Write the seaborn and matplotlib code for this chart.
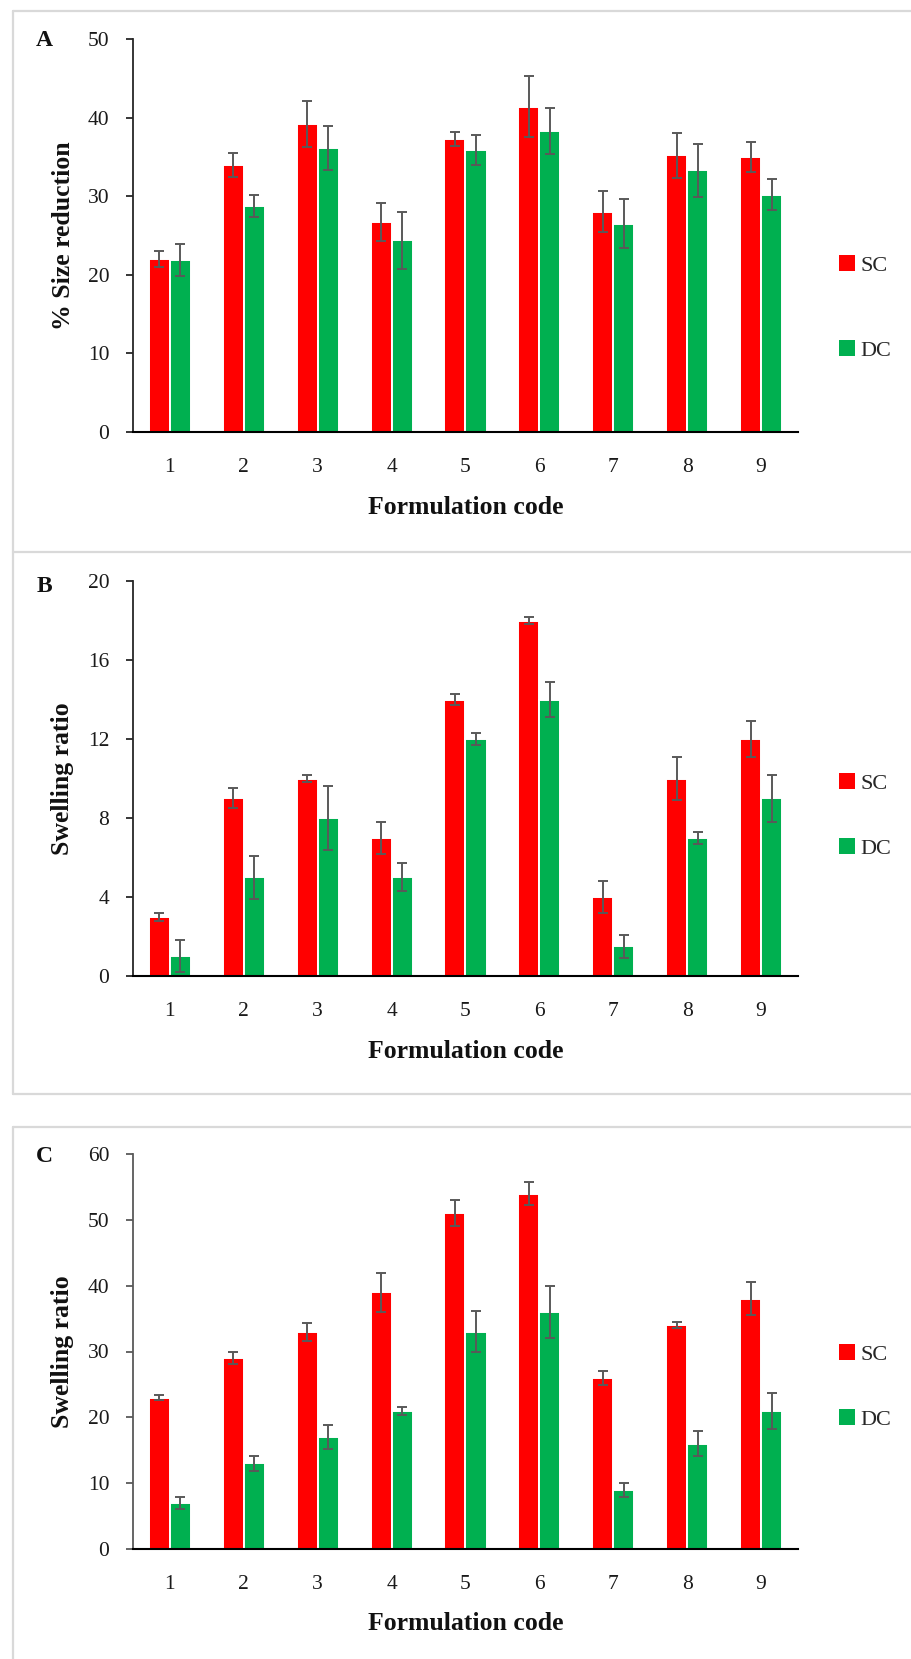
import numpy as np
import pandas as pd
import matplotlib
matplotlib.use("Agg")
import matplotlib.pyplot as plt
from matplotlib.lines import Line2D
from matplotlib.ticker import MultipleLocator, FixedLocator
import seaborn as sns

# ---------------- data ----------------
codes = ["1", "2", "3", "4", "5", "6", "7", "8", "9"]
series = ["SC", "DC"]

a_sc = [22.0, 34.0, 39.2, 26.7, 37.3, 41.4, 28.0, 35.2, 35.0]
a_sc_err = [1.0, 1.5, 2.9, 2.4, 0.9, 3.9, 2.6, 2.9, 1.9]
a_dc = [21.9, 28.7, 36.1, 24.4, 35.9, 38.3, 26.5, 33.3, 30.2]
a_dc_err = [2.0, 1.4, 2.8, 3.6, 1.9, 2.9, 3.1, 3.4, 2.0]

b_sc = [3.0, 9.0, 10.0, 7.0, 14.0, 18.0, 4.0, 10.0, 12.0]
b_sc_err = [0.2, 0.5, 0.2, 0.8, 0.3, 0.2, 0.8, 1.1, 0.9]
b_dc = [1.0, 5.0, 8.0, 5.0, 12.0, 14.0, 1.5, 7.0, 9.0]
b_dc_err = [0.8, 1.1, 1.6, 0.7, 0.3, 0.9, 0.6, 0.3, 1.2]

c_sc = [23.0, 29.0, 33.0, 39.0, 51.0, 54.0, 26.0, 34.0, 38.0]
c_sc_err = [0.35, 0.9, 1.4, 3.0, 2.0, 1.8, 1.1, 0.5, 2.5]
c_dc = [7.0, 13.0, 17.0, 21.0, 33.0, 36.0, 9.0, 16.0, 21.0]
c_dc_err = [0.9, 1.2, 1.8, 0.6, 3.1, 4.0, 1.1, 1.9, 2.7]

panel_letters = ["A", "B", "C"]
y_labels = ["% Size reduction", "Swelling ratio", "Swelling ratio"]
x_label = "Formulation code"

# ---------------- style ----------------
sns.set_style("white")
plt.rcParams["font.family"] = ["Liberation Serif", "DejaVu Serif"]

W, H = 912, 1659
fig = plt.figure(figsize=(W / 100, H / 100), dpi=100)

def fx(px):
    return px / W

def fy(py):
    return 1 - py / H

colors = ["#FF0000", "#00B050"]
err_color = "#595959"
border_color = "#d9d9d9"

# panel borders (light grey boxes)
def hline(x0, x1, y):
    fig.add_artist(Line2D([fx(x0), fx(x1)], [fy(y), fy(y)], transform=fig.transFigure,
                          color=border_color, lw=1.6))

def vline(x, y0, y1):
    fig.add_artist(Line2D([fx(x), fx(x)], [fy(y0), fy(y1)], transform=fig.transFigure,
                          color=border_color, lw=1.6))

hline(13.5, 912, 11)
hline(13.5, 912, 552)
hline(13.5, 912, 1094)
vline(13.5, 11, 1094)
hline(13.5, 912, 1127)
vline(13.5, 1127, 1659)

ax_left, ax_right = 133, 798
panels = [
    dict(top=39, bottom=432, ymax=50, step=10, sc=a_sc, sce=a_sc_err, dc=a_dc, dce=a_dc_err,
         leg_y=308, ycol="#262626", letter_y=40),
    dict(top=581, bottom=976, ymax=20, step=4, sc=b_sc, sce=b_sc_err, dc=b_dc, dce=b_dc_err,
         leg_y=816, ycol="#262626", letter_y=586),
    dict(top=1154, bottom=1549, ymax=60, step=10, sc=c_sc, sce=c_sc_err, dc=c_dc, dce=c_dc_err,
         leg_y=1387, ycol="#595959", letter_y=1157),
]

for i, p in enumerate(panels):
    ax = fig.add_axes([fx(ax_left), fy(p["bottom"]), (ax_right - ax_left) / W,
                       (p["bottom"] - p["top"]) / H])
    df = pd.DataFrame({
        "code": codes * 2,
        "value": list(p["sc"]) + list(p["dc"]),
        "err": list(p["sce"]) + list(p["dce"]),
        "series": ["SC"] * len(codes) + ["DC"] * len(codes),
    })
    sns.barplot(data=df, x="code", y="value", hue="series", hue_order=series, order=codes,
                palette=colors, saturation=1, width=0.57, edgecolor="white", linewidth=1.4,
                errorbar=None, ax=ax, zorder=2)
    # error bars at bar centres
    for cont, s in zip(ax.containers, series):
        errs = df.loc[df["series"] == s, "err"].to_numpy()
        xs = [b.get_x() + b.get_width() / 2 for b in cont]
        ys = [b.get_height() for b in cont]
        ax.errorbar(xs, ys, yerr=errs, fmt="none", ecolor=err_color, elinewidth=1.4,
                    capsize=3.3, capthick=1.4, zorder=3)

    ax.set_xlim(-0.5, len(codes) - 0.5)
    ax.set_ylim(0, p["ymax"])
    ax.yaxis.set_major_locator(MultipleLocator(p["step"]))
    ax.xaxis.set_minor_locator(FixedLocator(np.arange(-0.5, len(codes), 1.0)))
    ax.tick_params(axis="x", which="major", length=0, pad=19, labelsize=15.5, labelcolor="#1a1a1a")
    ax.tick_params(axis="x", which="minor", length=6, width=1.3, direction="out", color="#000000")
    ax.tick_params(axis="y", which="major", length=5, width=1.3, direction="out",
                   color=p["ycol"], pad=12, labelsize=15.5, labelcolor="#1a1a1a", left=True)
    for side in ["top", "right"]:
        ax.spines[side].set_visible(False)
    ax.spines["left"].set_color(p["ycol"])
    ax.spines["left"].set_linewidth(1.3)
    ax.spines["bottom"].set_color("#000000")
    ax.spines["bottom"].set_linewidth(1.5)
    ax.spines["bottom"].set_zorder(4)
    ax.set_xlabel("")
    ax.set_ylabel("")
    ax.grid(False)

    # legend
    leg_ax_y = (p["bottom"] - p["leg_y"]) / (p["bottom"] - p["top"])
    spacing = 86 if i == 0 else 66
    sns.move_legend(ax, loc="center left",
                    bbox_to_anchor=((839 - ax_left) / (ax_right - ax_left), leg_ax_y),
                    frameon=False, title=None, fontsize=16, handlelength=0.72,
                    handleheight=0.72, handletextpad=0.25, borderpad=0, borderaxespad=0,
                    labelspacing=(spacing - 22) / 22.2)
    for h in ax.get_legend().legend_handles:
        h.set_edgecolor("none")

    # labels
    fig.text(fx(465.5), fy(p["bottom"] + 75), x_label, ha="center", va="center",
             fontsize=18.5, fontweight="bold", color="#111111")
    fig.text(fx(63), fy((p["top"] + p["bottom"]) / 2), y_labels[i], rotation=90,
             ha="center", va="center", fontsize=18.5, fontweight="bold", color="#111111")
    fig.text(fx(44), fy(p["letter_y"]), panel_letters[i], ha="center", va="center",
             fontsize=17, fontweight="bold", color="#111111")

fig.savefig("out.png", dpi=100, facecolor="white")
